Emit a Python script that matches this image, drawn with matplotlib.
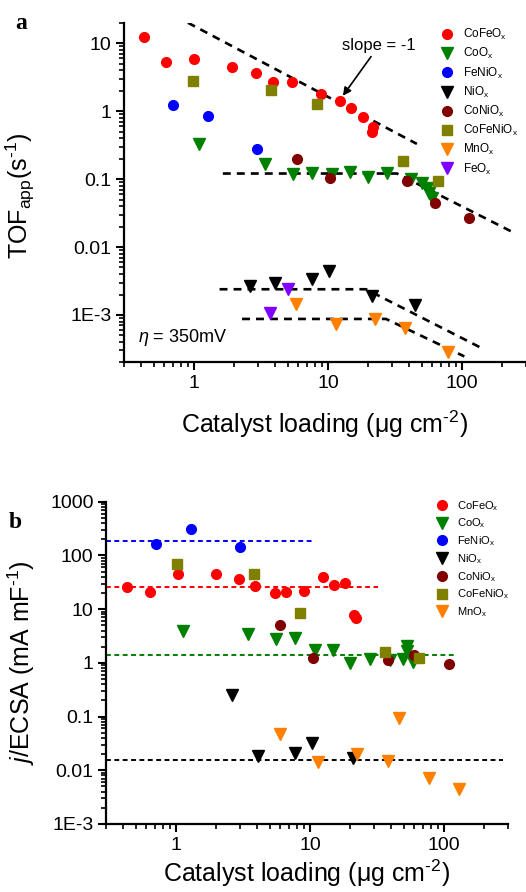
import numpy as np
import matplotlib
matplotlib.use("Agg")
import matplotlib.pyplot as plt
from matplotlib.ticker import FixedLocator, FixedFormatter, LogLocator, NullFormatter

plt.rcParams['font.family'] = ['Liberation Sans', 'DejaVu Sans']
plt.rcParams['mathtext.fontset'] = 'custom'
plt.rcParams['mathtext.rm'] = 'Liberation Sans'
plt.rcParams['mathtext.it'] = 'Liberation Sans:italic'
plt.rcParams['mathtext.bf'] = 'Liberation Sans:bold'

# ---------------- panel a: apparent TOF vs loading ----------------
a_cofeox_x = [0.42, 0.62, 1.0, 1.92, 2.89, 3.85, 5.37, 8.93, 12.3, 14.9, 18.2, 21.7, 21.2]
a_cofeox_y = [12.5, 5.3, 5.8, 4.5, 3.6, 2.69, 2.69, 1.77, 1.43, 1.12, 0.82, 0.59, 0.50]
a_coox_x = [1.09, 3.4, 5.47, 7.59, 10.7, 14.6, 19.7, 27.6, 41.6, 50.2, 54.3, 56.2, 59.6]
a_coox_y = [0.328, 0.166, 0.119, 0.124, 0.119, 0.128, 0.108, 0.122, 0.102, 0.0865, 0.073, 0.063, 0.052]
a_fenio_x = [0.694, 1.265, 2.93]
a_fenio_y = [1.24, 0.84, 0.274]
a_niox_x = [2.63, 4.01, 7.65, 10.2, 21.3, 44.7]
a_niox_y = [0.00267, 0.0030, 0.00344, 0.00445, 0.00189, 0.00139]
a_conio_x = [5.85, 10.4, 39.0, 63.0, 113.0]
a_conio_y = [0.195, 0.104, 0.094, 0.045, 0.0272]
a_cofenio_x = [0.978, 3.78, 8.3, 36.0, 65.6]
a_cofenio_y = [2.81, 2.03, 1.29, 0.184, 0.0925]
a_mnox_x = [5.78, 11.5, 22.4, 37.7, 78.0]
a_mnox_y = [0.00147, 0.00073, 0.00086, 0.00065, 0.000280]
a_feox_x = [5.0, 3.66]
a_feox_y = [0.00245, 0.00108]

# guide lines (loading, TOF) break points
a_slope_x = [0.9, 46.0]
a_slope_y = [20.1, 0.33]
a_co_line_x = [1.64, 32.7, 237.0]
a_co_line_y = [0.121, 0.121, 0.0167]
a_ni_line_x = [1.55, 19.2, 142.0]
a_ni_line_y = [0.00239, 0.00239, 0.00032]
a_mn_line_x = [2.28, 27.1, 104.0]
a_mn_line_y = [0.000873, 0.000873, 0.000245]

# ---------------- panel b: ECSA-normalised current ----------------
b_cofeox_x = [0.428, 0.64, 1.03, 1.97, 2.95, 3.89, 5.48, 6.58, 9.02, 12.5, 15.0, 18.2, 21.2, 22.0]
b_cofeox_y = [25.5, 21.1, 45.6, 44.5, 36.8, 27.3, 20.0, 20.8, 21.7, 39.6, 28.1, 31.0, 7.67, 6.74]
b_coox_x = [1.12, 3.43, 5.61, 7.73, 10.8, 14.9, 20.0, 27.9, 39.4, 49.0, 52.7, 53.3, 59.0]
b_coox_y = [3.91, 3.4, 2.74, 2.86, 1.73, 1.73, 0.98, 1.18, 1.13, 1.18, 2.05, 1.66, 1.05]
b_fenio_x = [0.71, 1.29, 2.99]
b_fenio_y = [163.0, 310.0, 143.0]
b_niox_x = [2.61, 4.07, 7.73, 10.3, 20.8]
b_niox_y = [0.251, 0.0184, 0.0206, 0.0317, 0.0166]
b_conio_x = [5.97, 10.5, 38.0, 60.1, 109.0]
b_conio_y = [5.06, 1.24, 1.14, 1.38, 0.95]
b_cofenio_x = [1.01, 3.84, 8.38, 36.3, 65.5]
b_cofenio_y = [70.0, 44.4, 8.57, 1.61, 1.24]
b_mnox_x = [5.97, 11.5, 22.5, 38.4, 46.4, 77.6, 129.0]
b_mnox_y = [0.0472, 0.014, 0.020, 0.015, 0.095, 0.00706, 0.00447]

# mean levels (value, right end of the dashed line)
b_fenio_mean, b_fenio_end = 183.0, 10.8
b_cofeox_mean, b_cofeox_end = 25.8, 32.0
b_coox_mean, b_coox_end = 1.40, 119.0
b_low_mean, b_low_end = 0.0153, 274.0

x_ticks = [1, 10, 100]
x_tick_labels = ["1", "10", "100"]
a_y_ticks = [1e-3, 1e-2, 1e-1, 1, 10]
a_y_tick_labels = ["1E-3", "0.01", "0.1", "1", "10"]
b_y_ticks = [1e-3, 1e-2, 1e-1, 1, 10, 100, 1000]
b_y_tick_labels = ["1E-3", "0.01", "0.1", "1", "10", "100", "1000"]

C_RED = '#FF0000'
C_GREEN = '#008000'
C_BLUE = '#0000FF'
C_BLACK = '#000000'
C_WINE = '#800000'
C_OLIVE = '#808000'
C_ORANGE = '#FF8000'
C_VIOLET = '#8000FF'

# hyphen (U+2010) keeps the short dash in superscripts
XLABEL = 'Catalyst loading (μg cm$^\\mathregular{\u20102}$)'

W, H = 526, 892
fig = plt.figure(figsize=(W / 100, H / 100), dpi=100)
fig.patch.set_facecolor('white')

ax_a = fig.add_axes([124 / W, 1 - 362.4 / H, 402 / W, 339.5 / H])
ax_b = fig.add_axes([106 / W, 1 - 824 / H, 402 / W, 322.3 / H])


def style_axis(ax, yticks, ylabels):
    ax.set_xscale('log')
    ax.set_yscale('log')
    ax.set_facecolor('none')
    for side in ('top', 'right'):
        ax.spines[side].set_visible(False)
    for side in ('left', 'bottom'):
        ax.spines[side].set_linewidth(1.6)
    ax.xaxis.set_major_locator(FixedLocator(x_ticks))
    ax.xaxis.set_major_formatter(FixedFormatter(x_tick_labels))
    ax.yaxis.set_major_locator(FixedLocator(yticks))
    ax.yaxis.set_major_formatter(FixedFormatter(ylabels))
    ax.xaxis.set_minor_locator(LogLocator(base=10, subs=np.arange(2, 10), numticks=100))
    ax.yaxis.set_minor_locator(LogLocator(base=10, subs=np.arange(2, 10), numticks=100))
    ax.xaxis.set_minor_formatter(NullFormatter())
    ax.yaxis.set_minor_formatter(NullFormatter())
    ax.tick_params(which='major', direction='out', length=6, width=1.5, labelsize=14, pad=3)
    ax.tick_params(which='minor', direction='out', length=3.5, width=1.2)
    ax.tick_params(top=False, right=False, which='both')


MS_C, MS_T, MS_S = 7, 8, 6.5

# ---- panel a ----
ax = ax_a
style_axis(ax, a_y_ticks, a_y_tick_labels)
ax.set_xlim(0.3, 300)
ax.set_ylim(2e-4, 20)

dash_a = dict(color='k', lw=1.9, ls=(0, (3, 2.3)), zorder=1)
ax.plot(a_slope_x, a_slope_y, **dash_a)
ax.plot(a_co_line_x, a_co_line_y, **dash_a)
ax.plot(a_ni_line_x, a_ni_line_y, **dash_a)
ax.plot(a_mn_line_x, a_mn_line_y, **dash_a)

series_a = [
    (a_cofeox_x, a_cofeox_y, 'o', C_RED, MS_C, 'CoFeO$_\\mathregular{x}$'),
    (a_coox_x, a_coox_y, 'v', C_GREEN, MS_T, 'CoO$_\\mathregular{x}$'),
    (a_fenio_x, a_fenio_y, 'o', C_BLUE, MS_C, 'FeNiO$_\\mathregular{x}$'),
    (a_niox_x, a_niox_y, 'v', C_BLACK, MS_T, 'NiO$_\\mathregular{x}$'),
    (a_conio_x, a_conio_y, 'o', C_WINE, MS_C, 'CoNiO$_\\mathregular{x}$'),
    (a_cofenio_x, a_cofenio_y, 's', C_OLIVE, MS_S, 'CoFeNiO$_\\mathregular{x}$'),
    (a_mnox_x, a_mnox_y, 'v', C_ORANGE, MS_T, 'MnO$_\\mathregular{x}$'),
    (a_feox_x, a_feox_y, 'v', C_VIOLET, MS_T, 'FeO$_\\mathregular{x}$'),
]
for xs, ys, m, c, ms, lab in series_a:
    ax.plot(xs, ys, ls='none', marker=m, color=c, mec=c, ms=ms, label=lab, zorder=3)

ax.legend(loc='upper left', bbox_to_anchor=(440.8 / W, 1 - 27.0 / H), bbox_transform=fig.transFigure,
          frameon=False, fontsize=8.5, handlelength=1.0, handletextpad=0.9, labelspacing=0.35,
          borderpad=0, borderaxespad=0, markerscale=1.0)

ax.annotate('slope = -1', xy=(12.9, 1.69), xytext=(24.1, 9.4), fontsize=12,
            ha='center', va='center',
            arrowprops=dict(arrowstyle='-|>', color='k', lw=1.2, mutation_scale=12,
                            shrinkA=1, shrinkB=0))
ax.text(0.035, 0.072, r'$\eta$ = 350mV', transform=ax.transAxes, fontsize=13,
        ha='left', va='center')

ax.set_ylabel('TOF$_\\mathregular{app}$(s$^\\mathregular{\u20101}$)', fontsize=18)
ax.yaxis.set_label_coords(-0.216, 0.49)
ax.set_xlabel(XLABEL, fontsize=18)
ax.xaxis.set_label_coords(0.5, -0.135)

# ---- panel b ----
ax = ax_b
style_axis(ax, b_y_ticks, b_y_tick_labels)
ax.set_xlim(0.3, 300)
ax.set_ylim(1e-3, 1000)

dash_b = dict(lw=1.4, ls=(0, (2.5, 1.8)), zorder=1)
ax.plot([0.3, b_fenio_end], [b_fenio_mean, b_fenio_mean], color=C_BLUE, **dash_b)
ax.plot([0.3, b_cofeox_end], [b_cofeox_mean, b_cofeox_mean], color=C_RED, **dash_b)
ax.plot([0.3, b_coox_end], [b_coox_mean, b_coox_mean], color=C_GREEN, **dash_b)
ax.plot([0.3, b_low_end], [b_low_mean, b_low_mean], color=C_BLACK, **dash_b)

series_b = [
    (b_cofeox_x, b_cofeox_y, 'o', C_RED, MS_C, 'CoFeO$_\\mathregular{x}$'),
    (b_coox_x, b_coox_y, 'v', C_GREEN, MS_T, 'CoO$_\\mathregular{x}$'),
    (b_fenio_x, b_fenio_y, 'o', C_BLUE, MS_C, 'FeNiO$_\\mathregular{x}$'),
    (b_niox_x, b_niox_y, 'v', C_BLACK, MS_T, 'NiO$_\\mathregular{x}$'),
    (b_conio_x, b_conio_y, 'o', C_WINE, MS_C, 'CoNiO$_\\mathregular{x}$'),
    (b_cofenio_x, b_cofenio_y, 's', C_OLIVE, MS_S, 'CoFeNiO$_\\mathregular{x}$'),
    (b_mnox_x, b_mnox_y, 'v', C_ORANGE, MS_T, 'MnO$_\\mathregular{x}$'),
]
for xs, ys, m, c, ms, lab in series_b:
    ax.plot(xs, ys, ls='none', marker=m, color=c, mec=c, ms=ms, label=lab, zorder=3)

ax.legend(loc='upper left', bbox_to_anchor=(436.0 / W, 1 - 499.0 / H), bbox_transform=fig.transFigure,
          frameon=False, fontsize=8, handlelength=1.0, handletextpad=0.9, labelspacing=0.35,
          borderpad=0, borderaxespad=0, markerscale=1.0)

ax.set_ylabel('$\\it{j}$/ECSA (mA mF$^\\mathregular{\u20101}$)', fontsize=18)
ax.yaxis.set_label_coords(-0.172, 0.5)
ax.set_xlabel(XLABEL, fontsize=18)
ax.xaxis.set_label_coords(0.5, -0.104)

fig.text(15 / W, 1 - 29 / H, 'a', fontsize=17, fontweight='bold', family='Liberation Serif')
fig.text(9 / W, 1 - 528 / H, 'b', fontsize=17, fontweight='bold', family='Liberation Serif')

fig.savefig('out.png', dpi=100, facecolor='white')
